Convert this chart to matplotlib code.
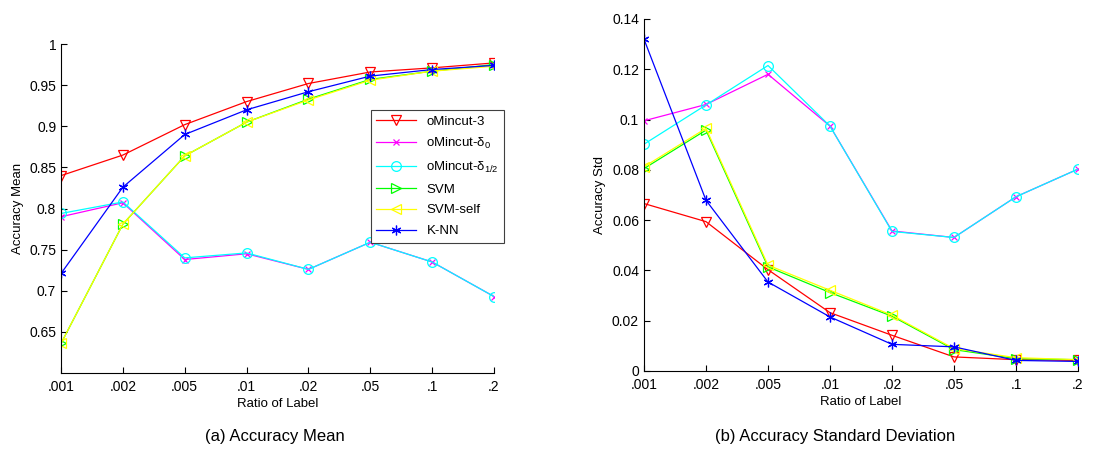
import numpy as np
import matplotlib
matplotlib.use('Agg')
import matplotlib.pyplot as plt

plt.rcParams['font.family'] = ['Liberation Sans', 'DejaVu Sans']
plt.rcParams['mathtext.fontset'] = 'custom'
plt.rcParams['mathtext.rm'] = 'Liberation Sans'
plt.rcParams['mathtext.it'] = 'Liberation Sans'

ratios = ['.001', '.002', '.005', '.01', '.02', '.05', '.1', '.2']

# accuracy mean
mean_omincut3 = [0.840, 0.865, 0.902, 0.930, 0.952, 0.966, 0.971, 0.977]
mean_delta0 = [0.790, 0.807, 0.738, 0.745, 0.726, 0.759, 0.735, 0.693]
mean_delta12 = [0.794, 0.808, 0.740, 0.746, 0.726, 0.759, 0.735, 0.693]
mean_svm = [0.636, 0.781, 0.864, 0.905, 0.933, 0.957, 0.967, 0.975]
mean_svmself = [0.636, 0.781, 0.864, 0.905, 0.932, 0.956, 0.967, 0.973]
mean_knn = [0.721, 0.826, 0.890, 0.920, 0.942, 0.961, 0.969, 0.974]

# accuracy std
std_omincut3 = [0.0666, 0.0594, 0.0403, 0.0232, 0.0142, 0.0056, 0.0045, 0.0042]
std_delta0 = [0.0995, 0.1060, 0.1180, 0.0974, 0.0557, 0.0531, 0.0693, 0.0803]
std_delta12 = [0.0902, 0.1058, 0.1215, 0.0974, 0.0555, 0.0531, 0.0693, 0.0803]
std_svm = [0.0805, 0.0958, 0.0414, 0.0312, 0.0218, 0.0085, 0.0049, 0.0045]
std_svmself = [0.0812, 0.0965, 0.0421, 0.0321, 0.0222, 0.0089, 0.0053, 0.0045]
std_knn = [0.1320, 0.0679, 0.0354, 0.0215, 0.0106, 0.0096, 0.0042, 0.0038]

labels = ['oMincut-3', r'oMincut-$\delta_0$', r'oMincut-$\delta_{1/2}$', 'SVM', 'SVM-self', 'K-NN']
colors = ['#ff0000', '#ff00ff', '#00ffff', '#00ff00', '#ffff00', '#0000ff']
markers = ['v', 'x', 'o', '>', '<', (6, 2, 0)]

x = np.arange(len(ratios))

fig = plt.figure(figsize=(10.98, 4.51), dpi=100)
ax1 = fig.add_axes([0.0556, 0.1729, 0.3943, 0.7295])
ax2 = fig.add_axes([0.5865, 0.1774, 0.3953, 0.7805])

def draw(ax, series):
    for s, lab, c, m in zip(series, labels, colors, markers):
        ms = 4 if m == 'x' else 7
        ax.plot(x, s, color=c, marker=m, markersize=ms, markerfacecolor='none',
                markeredgewidth=0.9, linewidth=0.9, label=lab)
    ax.set_xlim(0, 7)
    ax.set_xticks(x)
    ax.set_xticklabels(ratios)
    ax.spines['top'].set_visible(False)
    ax.spines['right'].set_visible(False)
    ax.tick_params(direction='in', labelsize=10, length=4)
    ax.tick_params(axis='x', pad=5)
    ax.set_xlabel('Ratio of Label', fontsize=9.5, labelpad=3)

draw(ax1, [mean_omincut3, mean_delta0, mean_delta12, mean_svm, mean_svmself, mean_knn])
ax1.set_ylim(0.6, 1.0)
yt = [0.65, 0.7, 0.75, 0.8, 0.85, 0.9, 0.95, 1.0]
ax1.set_yticks(yt)
ax1.set_yticklabels(['%g' % v for v in yt])
ax1.set_ylabel('Accuracy Mean', fontsize=9.5)
leg = ax1.legend(loc='upper left', bbox_to_anchor=(371/1098, 1-110/451),
                 bbox_transform=fig.transFigure, fontsize=9.5, fancybox=False,
                 framealpha=1, edgecolor='#404040', handlelength=3.0,
                 borderaxespad=0, labelspacing=0.65)
leg.get_frame().set_linewidth(0.8)

draw(ax2, [std_omincut3, std_delta0, std_delta12, std_svm, std_svmself, std_knn])
ax2.set_ylim(0, 0.14)
yt2 = [0, 0.02, 0.04, 0.06, 0.08, 0.1, 0.12, 0.14]
ax2.set_yticks(yt2)
ax2.set_yticklabels(['%g' % v for v in yt2])
ax2.set_ylabel('Accuracy Std', fontsize=9.5)

fig.text(275/1098, 1-437/451, '(a) Accuracy Mean', ha='center', va='center', fontsize=12)
fig.text(835/1098, 1-437/451, '(b) Accuracy Standard Deviation', ha='center', va='center', fontsize=12)

plt.savefig('out.png', dpi=100)
